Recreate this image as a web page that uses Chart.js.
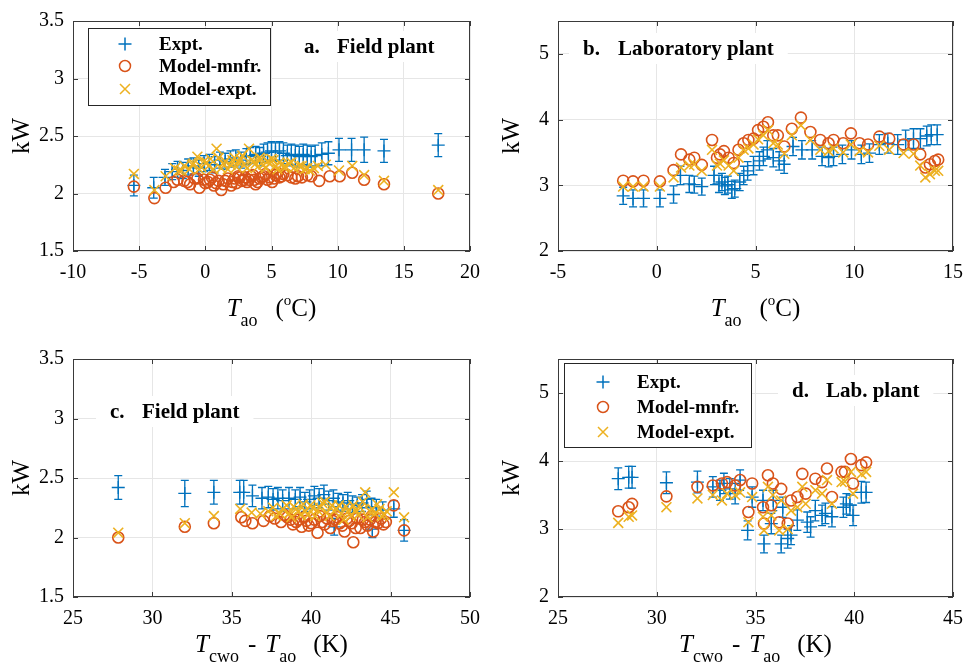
<!DOCTYPE html>
<html lang="en">
<head>
<meta charset="UTF-8">
<title>Power vs temperature - field and laboratory plant</title>
<script src="https://cdn.jsdelivr.net/npm/chart.js@4"></script>
<style>
  body { margin: 0; background: #fff; }
  #wrap { position: relative; width: 973px; height: 665px; overflow: hidden; }
  canvas { position: absolute; }
</style>
</head>
<body>
<div id="wrap">
  <canvas id="chartA" width="490" height="330" style="left:0;top:0"></canvas>
  <canvas id="chartB" width="483" height="330" style="left:490px;top:0"></canvas>
  <canvas id="chartC" width="490" height="335" style="left:0;top:330px"></canvas>
  <canvas id="chartD" width="483" height="335" style="left:490px;top:330px"></canvas>
</div>
<script>
// ---- data: panel a (field plant, kW vs Tao) ----
const aExptX = [-5.4,-3.9,-3.05,-2.5,-2.1,-1.7,-1.3,-0.9,-0.5,-0.1,0.3,0.7,1.1,1.5,1.9,2.3,2.7,3.1,3.4,3.8,4.1,4.4,4.7,5.0,5.3,5.6,5.9,6.2,6.5,6.8,7.1,7.4,7.7,8.0,8.3,8.8,9.3,10.1,11.05,12.0,13.5,17.6];
const aExptY = [2.07,2.05,2.14,2.19,2.21,2.20,2.23,2.24,2.22,2.26,2.27,2.25,2.29,2.28,2.30,2.31,2.29,2.32,2.33,2.34,2.32,2.35,2.36,2.37,2.36,2.37,2.35,2.33,2.34,2.33,2.32,2.34,2.33,2.32,2.33,2.34,2.35,2.38,2.38,2.38,2.37,2.42];
const aExptErr = [0.09,0.09,0.07,0.07,0.07,0.07,0.07,0.07,0.07,0.07,0.07,0.07,0.07,0.07,0.07,0.07,0.07,0.07,0.07,0.07,0.08,0.08,0.08,0.08,0.08,0.08,0.09,0.09,0.09,0.09,0.09,0.09,0.09,0.09,0.09,0.1,0.1,0.1,0.1,0.11,0.1,0.1];
const aMnfrX = [-5.4,-3.85,-3.0,-2.4,-2.1,-1.6,-1.15,-0.8,-0.45,-0.1,0.2,0.5,0.8,1.2,1.5,1.95,2.2,2.5,2.75,3.0,3.3,3.6,3.8,4.1,4.4,4.7,5.05,5.3,5.6,5.9,6.5,7.0,7.3,7.7,8.0,8.6,9.4,10.15,11.1,12.0,13.5,17.6,
  0.0,0.35,0.65,1.0,1.35,1.7,2.05,2.35,2.6,2.9,3.15,3.45,3.7,3.95,4.25,4.55,4.85,5.2,5.45,5.75,6.2,6.8,-1.35,-0.6];
const aMnfrY = [2.06,1.96,2.05,2.10,2.12,2.11,2.08,2.13,2.05,2.12,2.10,2.14,2.09,2.03,2.11,2.07,2.13,2.15,2.11,2.14,2.12,2.16,2.08,2.13,2.15,2.12,2.10,2.16,2.14,2.17,2.14,2.15,2.14,2.16,2.15,2.11,2.15,2.15,2.18,2.12,2.08,2.00,
  2.09,2.12,2.07,2.11,2.08,2.13,2.10,2.09,2.14,2.12,2.10,2.15,2.12,2.10,2.14,2.17,2.14,2.13,2.18,2.15,2.16,2.13,2.10,2.13];
const aModX = [-5.4,-3.85,-3.0,-2.3,-2.0,-1.6,-1.2,-0.9,-0.6,-0.3,0.1,0.4,0.85,1.2,1.5,1.9,2.2,2.5,2.8,3.3,3.5,3.8,4.1,4.4,4.7,5.0,5.3,5.6,5.9,6.3,6.7,7.1,7.5,7.9,8.2,8.5,9.1,10.1,11.1,12.0,13.5,17.6,
  -1.8,-1.0,-0.45,-0.1,0.25,0.6,1.0,1.35,1.7,2.05,2.35,2.65,2.95,3.15,3.65,3.95,4.25,4.55,4.85,5.15,5.45,5.75,6.1,6.5,7.3,7.7];
const aModY = [2.17,2.03,2.15,2.22,2.20,2.24,2.21,2.26,2.32,2.23,2.27,2.30,2.39,2.22,2.28,2.25,2.31,2.27,2.33,2.39,2.29,2.26,2.31,2.25,2.28,2.30,2.24,2.27,2.23,2.26,2.22,2.24,2.21,2.20,2.22,2.24,2.25,2.20,2.24,2.16,2.11,2.03,
  2.20,2.25,2.21,2.28,2.24,2.21,2.31,2.26,2.21,2.29,2.23,2.30,2.25,2.22,2.28,2.23,2.30,2.22,2.26,2.29,2.21,2.25,2.23,2.27,2.24,2.22];

// ---- data: panel b (laboratory plant, kW vs Tao) ----
const bExptX = [-1.7,-1.2,-0.67,0.16,0.85,1.2,1.65,1.9,2.28,2.9,3.15,3.3,3.45,3.6,3.8,3.95,4.2,4.4,4.6,4.9,5.2,5.4,5.6,5.9,6.2,6.45,6.9,7.35,7.87,8.37,8.7,8.95,9.4,9.86,10.36,10.77,11.27,11.7,12.2,12.6,13.0,13.35,13.67,13.9,14.2];
const bExptY = [2.84,2.80,2.80,2.80,2.86,3.15,3.02,3.01,2.98,3.15,3.02,3.05,2.99,3.01,2.93,2.95,3.05,3.15,3.22,3.30,3.37,3.44,3.54,3.42,3.37,3.32,3.59,3.54,3.54,3.44,3.42,3.44,3.47,3.54,3.47,3.49,3.62,3.64,3.62,3.69,3.71,3.71,3.75,3.77,3.77];
const bExptErr = [0.13,0.13,0.13,0.13,0.13,0.14,0.13,0.13,0.13,0.14,0.13,0.13,0.13,0.13,0.13,0.13,0.13,0.14,0.14,0.14,0.14,0.14,0.14,0.14,0.14,0.14,0.14,0.14,0.14,0.14,0.14,0.14,0.14,0.14,0.14,0.14,0.15,0.15,0.15,0.15,0.15,0.15,0.15,0.15,0.15];
const bModelX = [-1.7,-1.2,-0.67,0.16,0.85,1.23,1.65,1.9,2.28,2.8,3.05,3.2,3.4,3.64,3.9,4.14,4.4,4.64,4.9,5.13,5.4,5.63,5.9,6.13,6.46,6.84,7.3,7.78,8.28,8.7,8.95,9.44,9.83,10.27,10.7,11.27,11.77,12.5,13.0,13.34,13.6,13.83,14.08,14.25];
const bMnfrY = [3.07,3.06,3.07,3.06,3.23,3.47,3.39,3.42,3.31,3.69,3.42,3.47,3.52,3.42,3.34,3.54,3.64,3.69,3.71,3.84,3.89,3.96,3.76,3.76,3.59,3.86,4.03,3.81,3.69,3.64,3.69,3.64,3.79,3.64,3.62,3.74,3.71,3.62,3.62,3.47,3.27,3.32,3.37,3.39];
const bModY = [2.98,2.98,2.98,2.98,3.12,3.27,3.30,3.32,3.22,3.54,3.30,3.33,3.38,3.30,3.22,3.42,3.54,3.56,3.62,3.70,3.76,3.84,3.64,3.62,3.48,3.76,3.91,3.69,3.54,3.52,3.56,3.50,3.62,3.52,3.50,3.60,3.54,3.49,3.48,3.30,3.12,3.17,3.22,3.22];

// ---- data: panel c (field plant, kW vs Tcwo - Tao) ----
const cExptX = [27.85,32.04,33.87,35.5,35.75,36.3,36.9,37.3,37.6,37.9,38.2,38.6,39.0,39.3,39.6,39.9,40.2,40.5,40.8,41.1,41.4,41.7,42.0,42.3,42.6,42.9,43.2,43.5,43.8,44.1,44.5,45.2,45.85,41.45,43.85];
const cExptY = [2.42,2.37,2.38,2.38,2.38,2.35,2.33,2.34,2.32,2.33,2.31,2.33,2.32,2.34,2.30,2.32,2.35,2.33,2.36,2.31,2.33,2.30,2.29,2.31,2.28,2.27,2.29,2.32,2.26,2.25,2.23,2.24,2.06,2.09,2.07];
const cExptErr = [0.1,0.11,0.1,0.1,0.1,0.09,0.09,0.09,0.09,0.09,0.09,0.09,0.08,0.08,0.08,0.08,0.08,0.08,0.08,0.08,0.07,0.07,0.07,0.07,0.07,0.07,0.07,0.07,0.07,0.07,0.07,0.07,0.09,0.07,0.07];
const cMnfrX = [27.85,32.04,33.87,35.6,35.85,36.3,37.0,37.4,37.7,38.1,38.5,38.85,39.2,39.4,39.7,40.0,40.4,40.7,41.0,41.2,41.5,41.8,42.1,42.4,42.65,42.9,43.1,43.4,43.7,43.9,44.2,44.55,45.2,45.85,
  38.3,38.7,39.05,39.55,39.85,40.2,40.55,40.85,41.35,41.65,41.95,42.25,42.55,42.8,43.25,43.55,43.8,44.05,44.4,44.7];
const cMnfrY = [2.00,2.09,2.12,2.17,2.14,2.12,2.14,2.18,2.16,2.13,2.17,2.11,2.15,2.09,2.14,2.12,2.04,2.13,2.16,2.08,2.15,2.12,2.05,2.14,1.96,2.16,2.08,2.13,2.15,2.05,2.12,2.11,2.27,2.06,
  2.19,2.15,2.13,2.17,2.10,2.15,2.18,2.11,2.14,2.17,2.10,2.16,2.12,2.08,2.15,2.10,2.18,2.13,2.16,2.13];
const cModX = [27.85,32.04,33.87,35.53,36.25,36.8,37.3,37.8,38.2,38.6,38.9,39.2,39.5,39.8,40.1,40.4,40.7,41.0,41.3,41.6,41.9,42.2,42.5,42.8,43.1,43.4,43.7,44.0,44.3,44.6,45.2,45.85,
  37.6,38.05,38.45,38.75,39.05,39.35,39.65,39.95,40.25,40.55,40.85,41.15,41.45,41.75,42.05,42.35,42.65,42.95,43.25,43.55,43.85,44.15,44.45,44.75];
const cModY = [2.04,2.12,2.18,2.24,2.21,2.20,2.22,2.18,2.24,2.20,2.26,2.22,2.28,2.19,2.25,2.23,2.29,2.21,2.27,2.24,2.20,2.26,2.18,2.23,2.25,2.38,2.22,2.20,2.24,2.19,2.38,2.17,
  2.25,2.20,2.27,2.17,2.24,2.19,2.22,2.27,2.18,2.25,2.30,2.18,2.22,2.27,2.15,2.22,2.27,2.19,2.30,2.17,2.24,2.28,2.18,2.22];

// ---- data: panel d (lab plant, kW vs Tcwo - Tao) ----
const dExptX = [28.05,28.58,28.75,30.49,32.06,32.84,33.2,33.4,33.7,33.97,34.22,34.6,34.83,35.38,35.43,35.8,35.9,36.3,36.38,36.63,36.8,37.12,37.62,37.79,38.03,38.37,38.54,38.87,39.45,39.6,39.78,39.94,40.36,40.6];
const dExptY = [3.74,3.76,3.76,3.68,3.69,3.62,3.57,3.67,3.59,3.52,3.72,2.98,3.47,3.42,2.78,3.08,3.42,2.78,3.32,2.86,2.91,3.13,3.10,3.03,3.27,3.20,3.23,3.18,3.32,3.37,3.35,3.20,3.54,3.54];
const dExptErr = [0.16,0.16,0.16,0.16,0.16,0.15,0.15,0.15,0.15,0.15,0.15,0.14,0.15,0.15,0.13,0.15,0.15,0.13,0.15,0.14,0.14,0.15,0.15,0.15,0.15,0.15,0.15,0.15,0.15,0.15,0.15,0.15,0.16,0.15];
const dModelX = [28.05,28.58,28.75,30.49,32.06,32.84,33.3,33.56,33.97,34.22,34.64,34.83,35.38,35.43,35.63,35.8,35.88,36.2,36.3,36.63,36.8,37.12,37.37,37.54,38.03,38.37,38.62,38.87,39.36,39.53,39.83,39.94,40.36,40.6];
const dMnfrY = [3.26,3.32,3.37,3.48,3.62,3.64,3.67,3.69,3.64,3.72,3.25,3.67,3.32,3.08,3.79,3.35,3.67,3.10,3.59,3.08,3.42,3.47,3.81,3.52,3.74,3.69,3.89,3.47,3.84,3.84,4.03,3.67,3.94,3.98];
const dModY = [3.09,3.18,3.20,3.32,3.45,3.50,3.42,3.52,3.50,3.54,3.10,3.47,3.18,2.98,3.62,3.20,3.50,2.98,3.42,3.00,3.27,3.32,3.62,3.37,3.57,3.52,3.72,3.37,3.69,3.70,3.84,3.52,3.81,3.84];

// tick labels
const xTicksA = [-10,-5,0,5,10,15,20];
const xTicksB = [-5,0,5,10,15];
const xTicksC = [25,30,35,40,45,50];
const xTicksD = [25,30,35,40,45];
const yTicksField = [1.5,2,2.5,3,3.5];
const yTicksLab = [2,3,4,5];

const seriesNames = ['Expt.', 'Model-mnfr.', 'Model-expt.'];

const BLUE = '#0072BD', ORANGE = '#D95319', YELLOW = '#EDB120';
const SERIF = "'Liberation Serif', 'Times New Roman', serif";

function pts(xs, ys) {
  return xs.map((x, i) => ({ x: x, y: ys[i] }));
}

function drawMarker(ctx, kind, x, y) {
  ctx.beginPath();
  if (kind === 'cross') {
    ctx.strokeStyle = BLUE;
    ctx.moveTo(x - 6.5, y); ctx.lineTo(x + 6.5, y);
    ctx.moveTo(x, y - 6.5); ctx.lineTo(x, y + 6.5);
  } else if (kind === 'circle') {
    ctx.strokeStyle = ORANGE;
    ctx.arc(x, y, 5.5, 0, Math.PI * 2);
  } else {
    ctx.strokeStyle = YELLOW;
    ctx.moveTo(x - 5, y - 5); ctx.lineTo(x + 5, y + 5);
    ctx.moveTo(x - 5, y + 5); ctx.lineTo(x + 5, y - 5);
  }
  ctx.stroke();
}

// draws a row of text pieces centred on cx (used for the x-axis titles with subscripts)
function drawPieces(ctx, pieces, cx, base) {
  let total = 0;
  pieces.forEach(p => {
    if (p.gap) { total += p.gap; return; }
    ctx.font = p.f;
    p.w = ctx.measureText(p.t).width;
    total += p.w;
  });
  let x = cx - total / 2;
  ctx.textAlign = 'left';
  ctx.textBaseline = 'alphabetic';
  pieces.forEach(p => {
    if (p.gap) { x += p.gap; return; }
    ctx.font = p.f;
    ctx.fillText(p.t, x, base + (p.dy || 0));
    x += p.w;
  });
}

const titleTao = [
  { t: 'T', f: 'italic 25px ' + SERIF },
  { t: 'ao', f: '18px ' + SERIF, dy: 10 },
  { gap: 18 },
  { t: '(', f: '25px ' + SERIF },
  { t: 'o', f: '15px ' + SERIF, dy: -11 },
  { t: 'C)', f: '25px ' + SERIF }
];
const titleDiff = [
  { t: 'T', f: 'italic 25px ' + SERIF },
  { t: 'cwo', f: '18px ' + SERIF, dy: 10 },
  { gap: 9 },
  { t: '-', f: '25px ' + SERIF },
  { gap: 9 },
  { t: 'T', f: 'italic 25px ' + SERIF },
  { t: 'ao', f: '18px ' + SERIF, dy: 10 },
  { gap: 17 },
  { t: '(K)', f: '25px ' + SERIF }
];

function decor(cfg) {
  return {
    id: 'decor',
    afterDatasetDraw(chart, args) {
      const ds = chart.data.datasets[args.index];
      if (!ds.err) return;
      const ctx = chart.ctx, sx = chart.scales.x, sy = chart.scales.y;
      ctx.save();
      ctx.strokeStyle = BLUE;
      ctx.lineWidth = 1.3;
      ds.data.forEach((p, i) => {
        const px = sx.getPixelForValue(p.x);
        const y1 = sy.getPixelForValue(p.y - ds.err[i]);
        const y2 = sy.getPixelForValue(p.y + ds.err[i]);
        ctx.beginPath();
        ctx.moveTo(px, y1); ctx.lineTo(px, y2);
        ctx.moveTo(px - 4, y1); ctx.lineTo(px + 4, y1);
        ctx.moveTo(px - 4, y2); ctx.lineTo(px + 4, y2);
        ctx.stroke();
      });
      ctx.restore();
    },
    afterDraw(chart) {
      const ctx = chart.ctx, a = chart.chartArea;
      const sx = chart.scales.x, sy = chart.scales.y;
      ctx.save();
      // frame + inward ticks
      ctx.strokeStyle = '#3a3a3a';
      ctx.lineWidth = 1;
      ctx.strokeRect(a.left + 0.5, a.top + 0.5, a.right - a.left - 1, a.bottom - a.top - 1);
      ctx.beginPath();
      sx.ticks.forEach(t => {
        const px = Math.round(sx.getPixelForValue(t.value)) + 0.5;
        ctx.moveTo(px, a.bottom); ctx.lineTo(px, a.bottom - 5);
        ctx.moveTo(px, a.top); ctx.lineTo(px, a.top + 5);
      });
      sy.ticks.forEach(t => {
        const py = Math.round(sy.getPixelForValue(t.value)) + 0.5;
        ctx.moveTo(a.left, py); ctx.lineTo(a.left + 5, py);
        ctx.moveTo(a.right, py); ctx.lineTo(a.right - 5, py);
      });
      ctx.stroke();

      // panel label with white backing
      const lab = cfg.label;
      ctx.font = 'bold 21px ' + SERIF;
      const tw = ctx.measureText(lab.text).width;
      ctx.fillStyle = '#fff';
      ctx.fillRect(lab.px - 14, lab.base - 22, lab.tx + tw - lab.px + 28, 31);
      ctx.fillStyle = '#000';
      ctx.textAlign = 'left';
      ctx.textBaseline = 'alphabetic';
      ctx.fillText(lab.prefix, lab.px, lab.base);
      ctx.fillText(lab.text, lab.tx, lab.base);

      // legend box
      if (cfg.legend) {
        const L = cfg.legend;
        ctx.fillStyle = '#fff';
        ctx.fillRect(L.x, L.y, L.w, L.h);
        ctx.strokeStyle = '#262626';
        ctx.strokeRect(L.x + 0.5, L.y + 0.5, L.w, L.h);
        const kinds = ['cross', 'circle', 'xmark'];
        ctx.lineWidth = 1.5;
        seriesNames.forEach((name, i) => {
          drawMarker(ctx, kinds[i], L.mx, L.rows[i]);
          ctx.fillStyle = '#000';
          ctx.font = 'bold 19px ' + SERIF;
          ctx.textBaseline = 'middle';
          ctx.fillText(name, L.tx, L.rows[i] + 1);
        });
      }

      // axis titles
      ctx.fillStyle = '#000';
      drawPieces(ctx, cfg.xTitle, (a.left + a.right) / 2, cfg.xTitleBase);
      ctx.translate(22, (a.top + a.bottom) / 2);
      ctx.rotate(-Math.PI / 2);
      ctx.font = '25px ' + SERIF;
      ctx.textAlign = 'center';
      ctx.textBaseline = 'middle';
      ctx.fillText('kW', 0, 0);
      ctx.restore();
    }
  };
}

function makePanel(id, cfg) {
  const tickFont = { family: SERIF, size: 20 };
  const gridCol = '#e6e6e6';
  new Chart(document.getElementById(id), {
    type: 'scatter',
    data: {
      datasets: [
        { label: seriesNames[0], data: pts(cfg.expt[0], cfg.expt[1]), err: cfg.expt[2], order: 2,
          pointStyle: 'cross', radius: 6.5, borderColor: BLUE, borderWidth: 1.3, backgroundColor: BLUE },
        { label: seriesNames[1], data: pts(cfg.mnfr[0], cfg.mnfr[1]), order: 1,
          pointStyle: 'circle', radius: 5.5, borderColor: ORANGE, borderWidth: 1.6, backgroundColor: 'rgba(0,0,0,0)' },
        { label: seriesNames[2], data: pts(cfg.mod[0], cfg.mod[1]), order: 0,
          pointStyle: 'crossRot', radius: 7, borderColor: YELLOW, borderWidth: 1.6, backgroundColor: YELLOW }
      ]
    },
    options: {
      responsive: false,
      animation: false,
      events: [],
      layout: { padding: { top: cfg.area.top, right: cfg.area.right, left: 0, bottom: 0 } },
      plugins: { legend: { display: false }, tooltip: { enabled: false } },
      scales: {
        x: {
          type: 'linear', min: cfg.xMin, max: cfg.xMax,
          afterBuildTicks: s => { s.ticks = cfg.xTicks.map(v => ({ value: v })); },
          afterFit: s => { s.height = cfg.area.xH; },
          grid: { color: gridCol, drawTicks: false },
          border: { display: false },
          ticks: { font: tickFont, color: '#000', padding: 10, maxRotation: 0, callback: v => String(v) }
        },
        y: {
          type: 'linear', min: cfg.yMin, max: cfg.yMax,
          afterBuildTicks: s => { s.ticks = cfg.yTicks.map(v => ({ value: v })); },
          afterFit: s => { s.width = cfg.area.yW; },
          grid: { color: gridCol, drawTicks: false },
          border: { display: false },
          ticks: { font: tickFont, color: '#000', padding: 9, callback: v => String(v) }
        }
      }
    },
    plugins: [decor(cfg)]
  });
}

makePanel('chartA', {
  expt: [aExptX, aExptY, aExptErr], mnfr: [aMnfrX, aMnfrY], mod: [aModX, aModY],
  xMin: -10, xMax: 20, xTicks: xTicksA, yMin: 1.5, yMax: 3.5, yTicks: yTicksField,
  area: { top: 14, right: 16, yW: 73, xH: 79 },
  label: { prefix: 'a.', px: 304, text: 'Field plant', tx: 337, base: 53 },
  legend: { x: 88, y: 28, w: 182, h: 77, mx: 125, tx: 159, rows: [44, 66, 89] },
  xTitle: titleTao, xTitleBase: 316
});
makePanel('chartB', {
  expt: [bExptX, bExptY, bExptErr], mnfr: [bModelX, bMnfrY], mod: [bModelX, bModY],
  xMin: -5, xMax: 15, xTicks: xTicksB, yMin: 2, yMax: 5.5, yTicks: yTicksLab,
  area: { top: 14, right: 13, yW: 68, xH: 79 },
  label: { prefix: 'b.', px: 93, text: 'Laboratory plant', tx: 128, base: 55 },
  xTitle: titleTao, xTitleBase: 316
});
makePanel('chartC', {
  expt: [cExptX, cExptY, cExptErr], mnfr: [cMnfrX, cMnfrY], mod: [cModX, cModY],
  xMin: 25, xMax: 50, xTicks: xTicksC, yMin: 1.5, yMax: 3.5, yTicks: yTicksField,
  area: { top: 29, right: 16, yW: 73, xH: 68 },
  label: { prefix: 'c.', px: 110, text: 'Field plant', tx: 142, base: 88 },
  xTitle: titleDiff, xTitleBase: 322
});
makePanel('chartD', {
  expt: [dExptX, dExptY, dExptErr], mnfr: [dModelX, dMnfrY], mod: [dModelX, dModY],
  xMin: 25, xMax: 45, xTicks: xTicksD, yMin: 2, yMax: 5.5, yTicks: yTicksLab,
  area: { top: 29, right: 13, yW: 68, xH: 68 },
  label: { prefix: 'd.', px: 302, text: 'Lab. plant', tx: 336, base: 67 },
  legend: { x: 74, y: 33, w: 187, h: 84, mx: 113, tx: 147, rows: [52, 77, 102] },
  xTitle: titleDiff, xTitleBase: 322
});
</script>
</body>
</html>
